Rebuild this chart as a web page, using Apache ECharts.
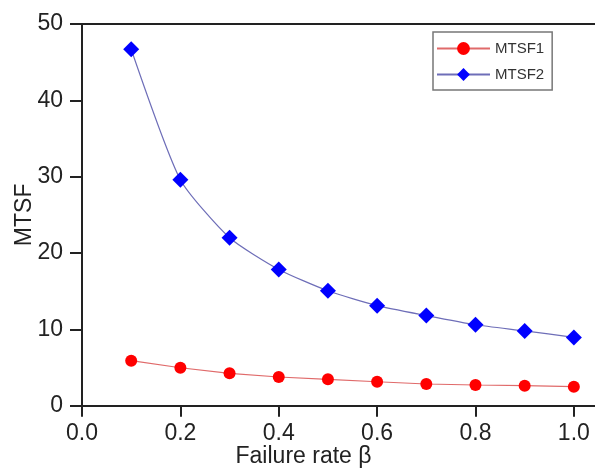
<!DOCTYPE html>
<html>
<head>
<meta charset="utf-8" />
<title>MTSF vs failure rate</title>
<script src="https://cdn.jsdelivr.net/npm/echarts@6/dist/echarts.min.js"></script>
<style>
  html, body { margin: 0; padding: 0; background: #fff; }
  #chart { width: 595px; height: 468px; }
</style>
</head>
<body>
<div id="chart"></div>
<script>
// failure rate values on the x axis
var beta = [0.1, 0.2, 0.3, 0.4, 0.5, 0.6, 0.7, 0.8, 0.9, 1.0];
var mtsf1 = [5.9, 4.97, 4.24, 3.76, 3.45, 3.14, 2.84, 2.71, 2.62, 2.49];
var mtsf2 = [46.7, 29.6, 22.0, 17.85, 15.05, 13.1, 11.8, 10.6, 9.8, 8.95];

function pairs(xs, ys) {
    return xs.map(function (x, i) { return [x, ys[i]]; });
}

var font = 'Liberation Sans, Arial, sans-serif';
var chart = echarts.init(document.getElementById('chart'));

// the plot box runs off the right edge of the picture, so no right border
var xMax = 1.043;

var option = {
    animation: false,
    grid: {
        left: 82, top: 24, right: 0, bottom: 62.3,
        containLabel: false,
        outerBoundsMode: 'none'
    },
    legend: {
        orient: 'vertical',
        left: 433, top: 32,
        padding: [9, 8, 8, 3],
        itemWidth: 53, itemHeight: 16, itemGap: 11,
        borderColor: '#777', borderWidth: 1.5, borderRadius: 0,
        textStyle: { fontFamily: font, fontSize: 15, color: '#333' },
        data: ['MTSF1', 'MTSF2']
    },
    xAxis: [{
        type: 'value',
        min: 0, max: xMax, interval: 0.2,
        name: 'Failure rate β',
        nameLocation: 'middle',
        nameGap: 39,
        nameMoveOverlap: false,
        nameTextStyle: { fontFamily: font, fontSize: 23, color: '#222', padding: [0, 70, 0, 0] },
        axisLine: { show: true, lineStyle: { color: '#222', width: 2 } },
        axisTick: { show: true, length: 11, lineStyle: { color: '#222', width: 2 } },
        axisLabel: {
            margin: 16, fontFamily: font, fontSize: 23, color: '#222',
            showMaxLabel: false,
            formatter: function (v) { return v.toFixed(1); }
        },
        splitLine: { show: false }
    }, {
        // top frame line only
        type: 'value',
        position: 'top',
        min: 0, max: xMax,
        axisLine: { show: true, lineStyle: { color: '#222', width: 2 } },
        axisTick: { show: false },
        axisLabel: { show: false },
        splitLine: { show: false }
    }],
    yAxis: {
        type: 'value',
        min: 0, max: 50, interval: 10,
        name: 'MTSF',
        nameLocation: 'middle',
        nameGap: 46,
        nameMoveOverlap: false,
        nameTextStyle: { fontFamily: font, fontSize: 23, color: '#222' },
        axisLine: { show: true, lineStyle: { color: '#222', width: 2 } },
        axisTick: { show: true, length: 12, lineStyle: { color: '#222', width: 2 } },
        axisLabel: { margin: 19, fontFamily: font, fontSize: 23, color: '#222' },
        splitLine: { show: false }
    },
    series: [
        {
            name: 'MTSF1',
            type: 'line',
            data: pairs(beta, mtsf1),
            symbol: 'circle',
            symbolSize: 12,
            itemStyle: { color: '#ff0000' },
            lineStyle: { color: '#e06a6a', width: 1.2 }
        },
        {
            name: 'MTSF2',
            type: 'line',
            smooth: 0.2,
            data: pairs(beta, mtsf2),
            symbol: 'diamond',
            symbolSize: [16, 16],
            itemStyle: { color: '#0000ff' },
            lineStyle: { color: '#6e6eb8', width: 1.2 }
        }
    ]
};

chart.setOption(option);
</script>
</body>
</html>
